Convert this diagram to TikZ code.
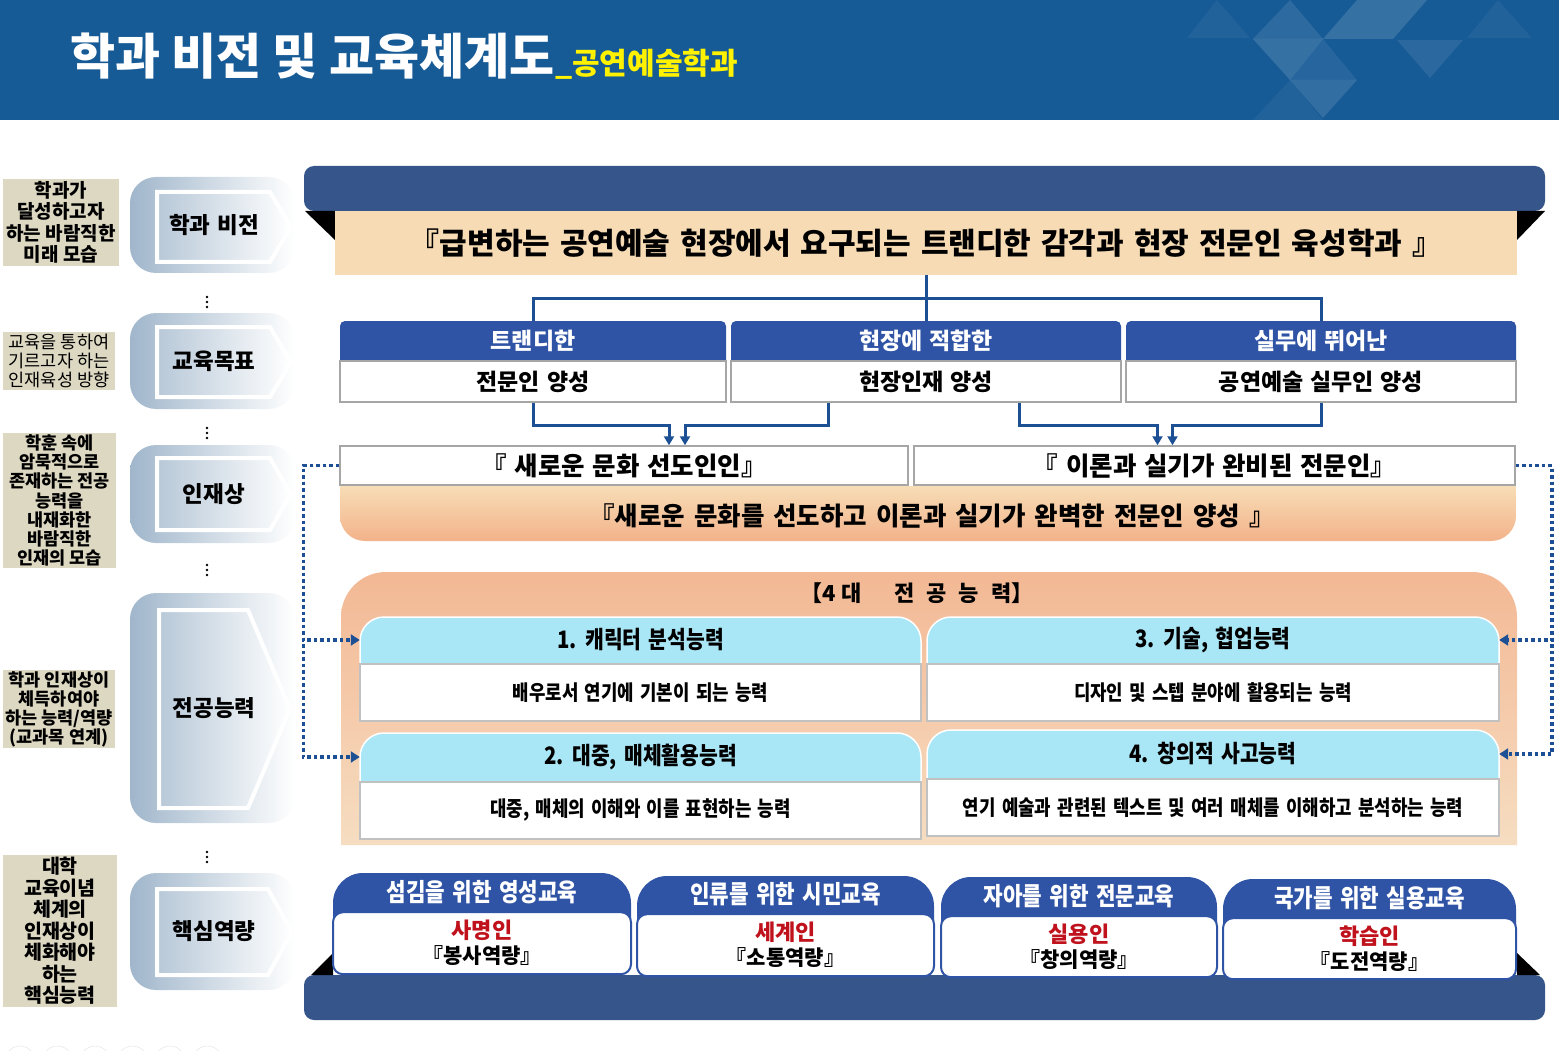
\documentclass[tikz,border=0pt]{standalone}
\usepackage{fontspec}
\setmainfont{Noto Sans CJK KR}
\newfontfamily\narrowfont{Noto Sans CJK KR}[FakeStretch=0.85]
\usepackage{xcolor}
\definecolor{hdrblue}{RGB}{22,90,150}
\definecolor{tagbeige}{RGB}{221,216,194}
\definecolor{stagegrey}{RGB}{160,182,203}
\definecolor{barblue}{RGB}{54,85,138}
\definecolor{visbeige}{RGB}{246,219,180}
\definecolor{headblue}{RGB}{47,83,165}
\definecolor{linkblue}{RGB}{28,79,148}
\definecolor{boxgrey}{RGB}{166,166,166}
\definecolor{sumtop}{RGB}{247,221,182}
\definecolor{sumbot}{RGB}{243,178,138}
\definecolor{comptop}{RGB}{243,184,148}
\definecolor{compbot}{RGB}{246,221,193}
\definecolor{capcyan}{RGB}{170,231,246}
\definecolor{corered}{RGB}{192,18,28}
\usepackage{tikz}
\usetikzlibrary{positioning}
\usetikzlibrary{arrows.meta}

\newcommand{\widesp}[1]{\spaceskip=#1em\relax}

\tikzset{
  tagBox/.style={fill=tagbeige,inner sep=0pt,align=center},
  stageBox/.style={rounded corners=26pt,left color=stagegrey,right color=white,minimum width=165,inner sep=0pt},
  stageArrow/.style={draw=white,line width=4pt,left color=stagegrey!75!white,right color=white},
  stageText/.style={font=\fontsize{22.5}{26}\selectfont\bfseries\widesp{0.3}},
  goalHead/.style={minimum height=39,inner sep=0pt,text=white,font=\fontsize{23}{27}\selectfont\bfseries\widesp{0.3}},
  goalBody/.style={minimum height=41,inner sep=0pt,fill=white,draw=boxgrey,line width=1.5pt,font=\fontsize{23}{27}\selectfont\bfseries\widesp{0.3}},
  talBox/.style={minimum height=39,inner sep=0pt,fill=white,draw=boxgrey,line width=1.5pt,font=\fontsize{25.5}{29}\selectfont\bfseries\widesp{0.3}},
  capHead/.style={inner sep=0pt,font=\narrowfont\fontsize{24}{28}\selectfont\bfseries\widesp{0.3}},
  capBody/.style={minimum height=57,inner sep=0pt,fill=white,draw=boxgrey!70,line width=1.5pt,font=\narrowfont\fontsize{21}{25}\selectfont\bfseries\widesp{0.3}},
  coreHead/.style={inner sep=0pt,text=white,font=\narrowfont\fontsize{25}{28}\selectfont\bfseries\widesp{0.3}},
  coreBody/.style={inner sep=0pt,fill=white,draw=headblue,line width=2pt,rounded corners=10pt,align=center,font=\fontsize{21}{25}\selectfont\bfseries},
  treeLine/.style={draw=linkblue,line width=3pt},
  flowArrow/.style={draw=linkblue,line width=3pt,-{Triangle[width=10pt,length=9pt]}},
  dotLink/.style={draw=linkblue,line width=3.5pt,dash pattern=on 3.5pt off 3pt,-{Triangle[width=11pt,length=9pt]}}
}

\begin{document}
\begin{tikzpicture}[x=1pt,y=-1pt]
\useasboundingbox (0,0) rectangle (1559,1051);

% title band
\fill[hdrblue] (0,0) rectangle (1559,120);
\fill[white,opacity=0.05] (1187,38) -- (1217,0) -- (1250,38) -- cycle;
\fill[white,opacity=0.10] (1253,39) -- (1290,0) -- (1323,39) -- cycle;
\fill[white,opacity=0.14] (1253,39) -- (1323,39) -- (1290,80) -- cycle;
\fill[white,opacity=0.14] (1323,39) -- (1357,0) -- (1427,0) -- (1393,39) -- cycle;
\fill[white,opacity=0.09] (1397,40) -- (1463,40) -- (1430,78) -- cycle;
\fill[white,opacity=0.07] (1290,80) -- (1323,39) -- (1357,80) -- cycle;
\fill[white,opacity=0.12] (1290,80) -- (1357,80) -- (1323,118) -- cycle;
\fill[white,opacity=0.05] (1253,120) -- (1290,80) -- (1323,120) -- cycle;
\fill[white,opacity=0.05] (1467,38) -- (1498,0) -- (1532,38) -- cycle;
\node (ttl) at (70,75) [anchor=base west,inner sep=0pt,text=white,font=\fontsize{49}{56}\selectfont\bfseries]{학과 비전 및 교육체계도};
\node (subttl) at (ttl.base east) [anchor=base west,inner sep=0pt,text=yellow,font=\fontsize{30}{34}\selectfont\bfseries]{\_공연예술학과};

% left column
\node (tag1) at (61,222.5) [tagBox,minimum width=116,minimum height=87,font=\fontsize{19}{21.5}\selectfont\bfseries]{학과가\\달성하고자\\하는 바람직한\\미래 모습};
\node (tag2) at (59,361) [tagBox,minimum width=112,minimum height=58,font=\fontsize{17.5}{19}\selectfont]{교육을 통하여\\기르고자 하는\\인재육성 방향};
\node (tag3) at (59.5,500.5) [tagBox,minimum width=113,minimum height=135,font=\fontsize{17.5}{19.2}\selectfont\bfseries]{학훈 속에\\암묵적으로\\존재하는 전공\\능력을\\내재화한\\바람직한\\인재의 모습};
\node (tag4) at (59,709) [tagBox,minimum width=112,minimum height=78,font=\fontsize{17.5}{19}\selectfont\bfseries]{학과 인재상이\\체득하여야\\하는 능력/역량\\(교과목 연계)};
\node (tag5) at (60,931) [tagBox,minimum width=114,minimum height=152,font=\fontsize{19.5}{21.5}\selectfont\bfseries]{대학\\교육이념\\체계의\\인재상이\\체화해야\\하는\\핵심능력};

\node (stg1) at (212.5,225) [stageBox,minimum height=96]{};
\draw[stageArrow] (157,192) -- (270,192) -- (291,227) -- (270,262) -- (157,262) -- cycle;
\node (stg1t) at (214,225) [stageText]{학과 비전};
\node (stg2) at (212.5,361) [stageBox,minimum height=96]{};
\draw[stageArrow] (157,327) -- (270,327) -- (291,362) -- (270,397) -- (157,397) -- cycle;
\node (stg2t) at (214,361) [stageText]{교육목표};
\node (stg3) at (212.5,494) [stageBox,minimum height=98]{};
\draw[stageArrow] (157,458) -- (270,458) -- (291,494) -- (270,530) -- (157,530) -- cycle;
\node (stg3t) at (214,494) [stageText]{인재상};
\node (stg4) at (212.5,708) [stageBox,minimum height=230]{};
\draw[stageArrow] (159,610) -- (248,610) -- (290,709) -- (248,808) -- (159,808) -- cycle;
\node (stg4t) at (214,708) [stageText]{전공능력};
\node (stg5) at (212.5,931.5) [stageBox,minimum height=117]{};
\draw[stageArrow] (157,889) -- (268,889) -- (292,932) -- (268,975) -- (157,975) -- cycle;
\node (stg5t) at (214,931) [stageText]{핵심역량};
\foreach \yy in {302,433,570,857}
  \foreach \dd in {-5,0,5}
    \fill (207,\yy+\dd) circle (1.4pt);
\foreach \cx in {20,57.5,95,132.5,170,207.5}
  \draw[black!12] (\cx,1061) circle (15pt);

% vision
\node (visBar) at (924.5,188.5) [fill=barblue,rounded corners=10pt,minimum width=1241,minimum height=45,inner sep=0pt]{};
\fill (305,211) -- (335,211) -- (335,240) -- cycle;
\fill (1517,211) -- (1545,211) -- (1517,240) -- cycle;
\node (vis) at (926,243) [fill=visbeige,minimum width=1182,minimum height=64,inner sep=0pt,font=\fontsize{30}{34}\selectfont\bfseries\widesp{0.33}]{『급변하는 공연예술 현장에서 요구되는 트랜디한 감각과 현장 전문인 육성학과 』};

% goals
\fill[headblue,rounded corners=5pt] (340,321) rectangle (726,372);
\fill[headblue,rounded corners=5pt] (731,321) rectangle (1121,372);
\fill[headblue,rounded corners=5pt] (1126,321) rectangle (1516,372);
\node (goalA) at (533,340.5) [goalHead,minimum width=386]{트랜디한};
\node (goalAb) [goalBody,minimum width=386,below=0pt of goalA]{전문인 양성};
\node (goalB) at (926,340.5) [goalHead,minimum width=390]{현장에 적합한};
\node (goalBb) [goalBody,minimum width=390,below=0pt of goalB]{현장인재 양성};
\node (goalC) at (1321,340.5) [goalHead,minimum width=390]{실무에 뛰어난};
\node (goalCb) [goalBody,minimum width=390,below=0pt of goalC]{공연예술 실무인 양성};
\draw[treeLine] (vis.south) -- (goalB.north);
\draw[treeLine] (vis.south) -- ++(0,23) -| (goalA.north);
\draw[treeLine] (vis.south) -- ++(0,23) -| (goalC.north);

% talent
\node (talA) at (624,465.5) [talBox,minimum width=568]{『 새로운 문화 선도인인』};
\node (talB) at (1214.5,465.5) [talBox,minimum width=601]{『 이론과 실기가 완비된 전문인』};
\shade[top color=sumtop,bottom color=sumbot] (340,486) -- (340,516) arc[start angle=180,end angle=90,radius=25] -- (1491,541) arc[start angle=90,end angle=0,radius=25] -- (1516,486) -- cycle;
\node (talSum) at (932,516) [font=\fontsize{25.5}{29}\selectfont\bfseries\widesp{0.35}]{『새로운 문화를 선도하고 이론과 실기가 완벽한 전문인 양성 』};
\draw[flowArrow] (goalAb.south) -- ++(0,23) -| ([xshift=45pt]talA.north);
\draw[flowArrow] ([xshift=-98pt]goalBb.south) -- ++(0,23) -| ([xshift=61pt]talA.north);
\draw[flowArrow] ([xshift=93pt]goalBb.south) -- ++(0,23) -| ([xshift=-57pt]talB.north);
\draw[flowArrow] (goalCb.south) -- ++(0,23) -| ([xshift=-42pt]talB.north);

% major competencies
\shade[top color=comptop,bottom color=compbot] (341,845) -- (341,617) arc[start angle=180,end angle=270,radius=45] -- (1472,572) arc[start angle=270,end angle=360,radius=45] -- (1517,845) -- cycle;
\node (compTtl) at (917,593) [font=\fontsize{22}{26}\selectfont\bfseries]{【4\hspace{5pt}대\hspace{33pt}전\hspace{12pt}공\hspace{12pt}능\hspace{12pt}력】};
\filldraw[fill=capcyan,draw=white,line width=1.5pt,rounded corners=24pt] (360,617) rectangle (921,700);
\filldraw[fill=capcyan,draw=white,line width=1.5pt,rounded corners=24pt] (927,617) rectangle (1499,700);
\filldraw[fill=capcyan,draw=white,line width=1.5pt,rounded corners=24pt] (360,733) rectangle (921,815);
\filldraw[fill=capcyan,draw=white,line width=1.5pt,rounded corners=24pt] (927,730) rectangle (1499,812);
\node (cap1) at (640.5,640) [capHead,minimum width=561,minimum height=46]{1. 캐릭터 분석능력};
\node (cap1b) [capBody,minimum width=561,below=0pt of cap1]{배우로서 연기에 기본이 되는 능력};
\node (cap3) at (1213,640) [capHead,minimum width=572,minimum height=46]{3. 기술, 협업능력};
\node (cap3b) [capBody,minimum width=572,below=0pt of cap3]{디자인 및 스텝 분야에 활용되는 능력};
\node (cap2) at (640.5,757) [capHead,minimum width=561,minimum height=48]{2. 대중, 매체활용능력};
\node (cap2b) [capBody,minimum width=561,below=0pt of cap2]{대중, 매체의 이해와 이를 표현하는 능력};
\node (cap4) at (1213,754) [capHead,minimum width=572,minimum height=48]{4. 창의적 사고능력};
\node (cap4b) [capBody,minimum width=572,below=0pt of cap4]{연기 예술과 관련된 텍스트 및 여러 매체를 이해하고 분석하는 능력};
\draw[dotLink] (talA.west) -- ++(-36,0) |- (cap1.west);
\draw[dotLink] (talA.west) -- ++(-36,0) |- (cap2.west);
\draw[dotLink] (talB.east) -- ++(36,0) |- (cap3.east);
\draw[dotLink] (talB.east) -- ++(36,0) |- (cap4.east);

% core competencies
\node (coreBar) at (924.5,997.5) [fill=barblue,rounded corners=10pt,minimum width=1241,minimum height=45,inner sep=0pt]{};
\fill (311,975) -- (333,953) -- (333,975) -- cycle;
\fill (1517,953) -- (1540,975) -- (1517,975) -- cycle;
\fill[headblue,rounded corners=30pt] (333,873) rectangle (631,950);
\fill[headblue,rounded corners=30pt] (637,876) rectangle (934,952);
\fill[headblue,rounded corners=30pt] (941,877) rectangle (1217,953);
\fill[headblue,rounded corners=30pt] (1223,879) rectangle (1516,955);
\node (core1) at (482,892) [coreHead,minimum width=298,minimum height=38]{섬김을 위한 영성교육};
\node (core1b) [coreBody,minimum width=298,minimum height=62,below=0pt of core1]{{\color{corered}\fontsize{22}{25}\selectfont 사명인}\\『봉사역량』};
\node (core2) at (785.5,894.5) [coreHead,minimum width=297,minimum height=37]{인류를 위한 시민교육};
\node (core2b) [coreBody,minimum width=297,minimum height=62,below=0pt of core2]{{\color{corered}\fontsize{22}{25}\selectfont 세계인}\\『소통역량』};
\node (core3) at (1079,896) [coreHead,minimum width=276,minimum height=38]{자아를 위한 전문교육};
\node (core3b) [coreBody,minimum width=276,minimum height=61,below=0pt of core3]{{\color{corered}\fontsize{22}{25}\selectfont 실용인}\\『창의역량』};
\node (core4) at (1369.5,898) [coreHead,minimum width=293,minimum height=38]{국가를 위한 실용교육};
\node (core4b) [coreBody,minimum width=293,minimum height=61,below=0pt of core4]{{\color{corered}\fontsize{22}{25}\selectfont 학습인}\\『도전역량』};
\end{tikzpicture}
\end{document}
